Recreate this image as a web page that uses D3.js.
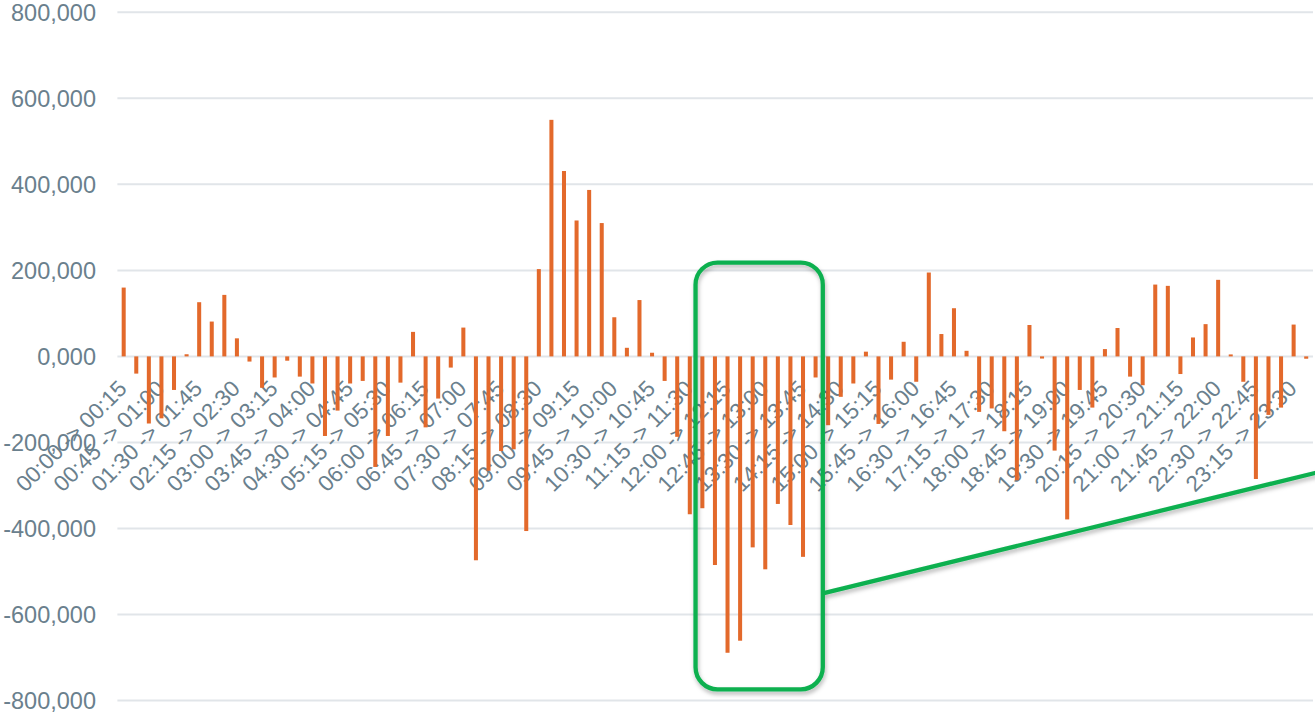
<!DOCTYPE html>
<html>
<head>
<meta charset="utf-8">
<script src="https://cdn.jsdelivr.net/npm/d3@7"></script>
<style>
  html, body { margin: 0; padding: 0; background: #ffffff; overflow: hidden; }
  svg { display: block; }
</style>
</head>
<body>
<svg id="chart" width="1315" height="713"></svg>
<script>
// Quarter-hour intervals of the day
const categories = [
  "00:00 -> 00:15","00:15 -> 00:30","00:30 -> 00:45","00:45 -> 01:00",
  "01:00 -> 01:15","01:15 -> 01:30","01:30 -> 01:45","01:45 -> 02:00",
  "02:00 -> 02:15","02:15 -> 02:30","02:30 -> 02:45","02:45 -> 03:00",
  "03:00 -> 03:15","03:15 -> 03:30","03:30 -> 03:45","03:45 -> 04:00",
  "04:00 -> 04:15","04:15 -> 04:30","04:30 -> 04:45","04:45 -> 05:00",
  "05:00 -> 05:15","05:15 -> 05:30","05:30 -> 05:45","05:45 -> 06:00",
  "06:00 -> 06:15","06:15 -> 06:30","06:30 -> 06:45","06:45 -> 07:00",
  "07:00 -> 07:15","07:15 -> 07:30","07:30 -> 07:45","07:45 -> 08:00",
  "08:00 -> 08:15","08:15 -> 08:30","08:30 -> 08:45","08:45 -> 09:00",
  "09:00 -> 09:15","09:15 -> 09:30","09:30 -> 09:45","09:45 -> 10:00",
  "10:00 -> 10:15","10:15 -> 10:30","10:30 -> 10:45","10:45 -> 11:00",
  "11:00 -> 11:15","11:15 -> 11:30","11:30 -> 11:45","11:45 -> 12:00",
  "12:00 -> 12:15","12:15 -> 12:30","12:30 -> 12:45","12:45 -> 13:00",
  "13:00 -> 13:15","13:15 -> 13:30","13:30 -> 13:45","13:45 -> 14:00",
  "14:00 -> 14:15","14:15 -> 14:30","14:30 -> 14:45","14:45 -> 15:00",
  "15:00 -> 15:15","15:15 -> 15:30","15:30 -> 15:45","15:45 -> 16:00",
  "16:00 -> 16:15","16:15 -> 16:30","16:30 -> 16:45","16:45 -> 17:00",
  "17:00 -> 17:15","17:15 -> 17:30","17:30 -> 17:45","17:45 -> 18:00",
  "18:00 -> 18:15","18:15 -> 18:30","18:30 -> 18:45","18:45 -> 19:00",
  "19:00 -> 19:15","19:15 -> 19:30","19:30 -> 19:45","19:45 -> 20:00",
  "20:00 -> 20:15","20:15 -> 20:30","20:30 -> 20:45","20:45 -> 21:00",
  "21:00 -> 21:15","21:15 -> 21:30","21:30 -> 21:45","21:45 -> 22:00",
  "22:00 -> 22:15","22:15 -> 22:30","22:30 -> 22:45","22:45 -> 23:00",
  "23:00 -> 23:15","23:15 -> 23:30","23:30 -> 23:45","23:45 -> 00:00"
];

// Net value per interval (last interval has no reading)
const values = [
   160000,  -40000, -156000, -144000,  -78000,    5000,  126000,   81000,
   143000,   42000,  -12000,  -73000,  -49000,  -10000,  -47000,  -63000,
  -185000, -126000,  -63000,  -57000, -257000, -185000,  -61000,   57000,
  -165000,  -98000,  -26000,   67000, -474000, -266000, -220000, -216000,
  -406000,  203000,  550000,  431000,  316000,  387000,  310000,   91000,
    20000,  131000,    8500,  -57000, -187000, -367000, -353000, -485000,
  -689000, -661000, -444000, -495000, -343000, -392000, -466000,  -49000,
  -160000,  -94000,  -63000,   11000, -157000,  -54000,   34000,  -59000,
   195000,   52000,  112000,   13000, -129000, -121000, -174000, -288000,
    73000,   -5000, -219000, -379000,  -78000, -119000,   17000,   66000,
   -47000,  -67000,  167000,  164000,  -41000,   44000,   75000,  178000,
     4600,  -59000, -285000, -136000, -119000,   74000,   -5400,    null
];

const yTickValues = [800000, 600000, 400000, 200000, 0, -200000, -400000, -600000, -800000];
const yTickLabels = ["800,000", "600,000", "400,000", "200,000", "0,000",
                     "-200,000", "-400,000", "-600,000", "-800,000"];

// Intervals enclosed by the callout box
const highlightRange = ["11:30 -> 11:45", "13:45 -> 14:00"];

const svg = d3.select("#chart");
const W = 1315, H = 713;

const plotLeft = 117.4, bandStep = 12.58;
const x = d3.scaleBand()
  .domain(categories)
  .range([plotLeft, plotLeft + bandStep * categories.length])
  .paddingInner(0.68)
  .paddingOuter(0.34);

const y = d3.scaleLinear()
  .domain([-800000, 800000])
  .range([700.5, 12.3]);

const textColor = "#6a808d";
const barColor = "#e3692b";
const gridColor = "#e1e5e9";
const green = "#0bb04f";
const font = "'Liberation Sans', Arial, sans-serif";

const defs = svg.append("defs");
const shadow = defs.append("filter").attr("id", "soft-shadow")
  .attr("x", "-20%").attr("y", "-20%").attr("width", "140%").attr("height", "140%");
shadow.append("feDropShadow")
  .attr("dx", 1).attr("dy", 3).attr("stdDeviation", 2.2)
  .attr("flood-color", "#000").attr("flood-opacity", 0.28);

// Horizontal gridlines
svg.append("g").selectAll("line")
  .data(yTickValues)
  .join("line")
  .attr("x1", plotLeft).attr("x2", 1313)
  .attr("y1", d => y(d)).attr("y2", d => y(d))
  .attr("stroke", gridColor).attr("stroke-width", 2);

// Y axis labels
const yAxis = d3.axisLeft(y)
  .tickValues(yTickValues)
  .tickFormat((d, i) => yTickLabels[i])
  .tickSize(0)
  .tickPadding(0);
const yg = svg.append("g")
  .attr("transform", "translate(96,0)")
  .call(yAxis);
yg.select(".domain").remove();
yg.selectAll("text")
  .attr("fill", textColor)
  .attr("font-family", font)
  .attr("font-size", 23.5)
  .attr("dy", "0.36em");

// X axis labels, every third interval, rotated
const labelIdx = d3.range(0, categories.length, 3);
svg.append("g").selectAll("text")
  .data(labelIdx)
  .join("text")
  .attr("transform", i => {
    const cx = x(categories[i]) + x.bandwidth() / 2 + 4.5;
    return `translate(${cx},390) rotate(-45)`;
  })
  .attr("text-anchor", "end")
  .attr("fill", textColor)
  .attr("font-family", font)
  .attr("font-size", 22.5)
  .text(i => categories[i]);

// Bars
svg.append("g").selectAll("rect")
  .data(categories.map((c, i) => ({ c, v: values[i] })).filter(d => d.v !== null))
  .join("rect")
  .attr("x", d => x(d.c))
  .attr("width", x.bandwidth())
  .attr("y", d => y(Math.max(0, d.v)))
  .attr("height", d => Math.abs(y(d.v) - y(0)))
  .attr("fill", barColor);

// Callout: rounded box around the midday dip, with a pointer line
const boxX0 = x(highlightRange[0]) - 4.8;
const boxX1 = x(highlightRange[1]) + x.bandwidth() + 5.2;
const boxTop = y(218000), boxBottom = y(-774000);
const callout = svg.append("g").attr("filter", "url(#soft-shadow)");
callout.append("rect")
  .attr("x", boxX0).attr("y", boxTop)
  .attr("width", boxX1 - boxX0).attr("height", boxBottom - boxTop)
  .attr("rx", 22).attr("ry", 22)
  .attr("fill", "none")
  .attr("stroke", green)
  .attr("stroke-width", 4.3);
callout.append("line")
  .attr("x1", boxX1).attr("y1", y(-551000))
  .attr("x2", W + 2).attr("y2", y(-270000))
  .attr("stroke", green)
  .attr("stroke-width", 4.3);
</script>
</body>
</html>
